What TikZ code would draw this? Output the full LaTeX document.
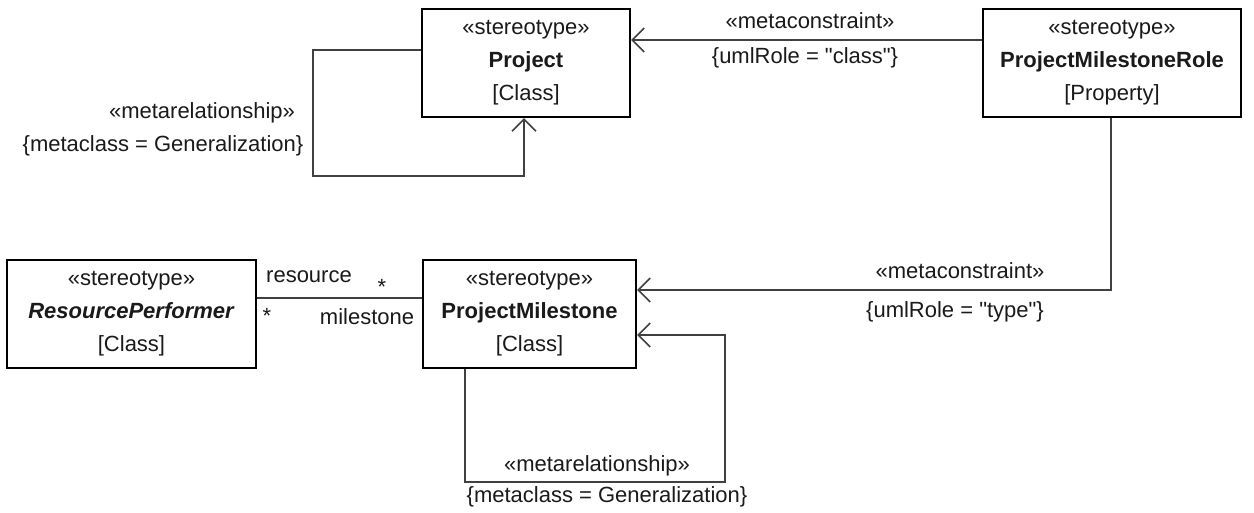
\documentclass[tikz,border=0pt]{standalone}
\usepackage{fontspec}
\setmainfont{Liberation Sans}
\newfontfamily\plainquote{Liberation Sans}
\newcommand{\sq}{{\plainquote"}}
\usetikzlibrary{arrows.meta}
\definecolor{linegray}{HTML}{404040}
\definecolor{txt}{HTML}{1A1A1A}
\begin{document}
\begin{tikzpicture}[x=1pt,y=-1pt,
  cls/.style={draw=black, line width=2.2pt, fill=white, inner sep=0pt, align=center,
    font=\fontsize{22}{33}\selectfont, text=txt},
  conn/.style={draw=linegray, line width=1.8pt},
  uarrow/.style={-{Straight Barb[length=12pt,width=24pt,line width=1.6pt]}},
  lbl/.style={font=\fontsize{22}{26}\selectfont, text=txt, inner sep=0pt}
]
\useasboundingbox[fill=white] (0,0) rectangle (1254,512);
% classes
\node[cls, minimum width=208pt, minimum height=108pt] (project) at (526,63)
  {«stereotype»\\\textbf{Project}\\{[Class]}};
\node[cls, minimum width=258pt, minimum height=108pt] (role) at (1112,63)
  {«stereotype»\\\textbf{ProjectMilestoneRole}\\{[Property]}};
\node[cls, minimum width=249pt, minimum height=108pt] (rp) at (131.5,314)
  {«stereotype»\\\textbf{\textit{ResourcePerformer}}\\{[Class]}};
\node[cls, minimum width=213pt, minimum height=108pt] (pm) at (529.5,314)
  {«stereotype»\\\textbf{ProjectMilestone}\\{[Class]}};
% helper coordinates
\coordinate (c1) at (700,40);
\coordinate (pl1) at (313,50);
\coordinate (pl2) at (313,176);
\coordinate (pl3) at (524,176);
\coordinate (rc) at (1111,290);
\coordinate (ml1) at (465,482);
\coordinate (ml2) at (725,482);
\coordinate (ml3) at (725,335);
\coordinate (as) at (340,298);
% connectors
\draw[conn,uarrow] (role.west |- c1) -- (project.east |- c1);
\draw[conn,uarrow] (project.west |- pl1) -- (pl1) -- (pl2) -- (pl3) -- (project.south -| pl3);
\draw[conn,uarrow] (role.south -| rc) -- (rc) -- (pm.east |- rc);
\draw[conn,uarrow] (pm.south -| ml1) -- (ml1) -- (ml2) -- (ml3) -- (pm.east |- ml3);
\draw[conn] (rp.east |- as) -- (pm.west |- as);
% labels
\node[lbl] (l1) at (810,21) {«metaconstraint»};
\node[lbl] (l2) at (805,58) {\{umlRole = \sq class\sq\}};
\node[lbl] (l3) at (202,113) {«metarelationship»};
\node[lbl] (l4) at (163,146) {\{metaclass = Generalization\}};
\node[lbl] (l5) at (960,271) {«metaconstraint»};
\node[lbl] (l6) at (955,312) {\{umlRole = \sq type\sq\}};
\node[lbl] (l7) at (597,466) {«metarelationship»};
\node[lbl] (l8) at (607,497) {\{metaclass = Generalization\}};
\node[lbl] (r1) at (309,277) {resource};
\node[lbl] (r2) at (382,287) {*};
\node[lbl] (r3) at (267,316) {*};
\node[lbl] (r4) at (367,317) {milestone};
\end{tikzpicture}
\end{document}
